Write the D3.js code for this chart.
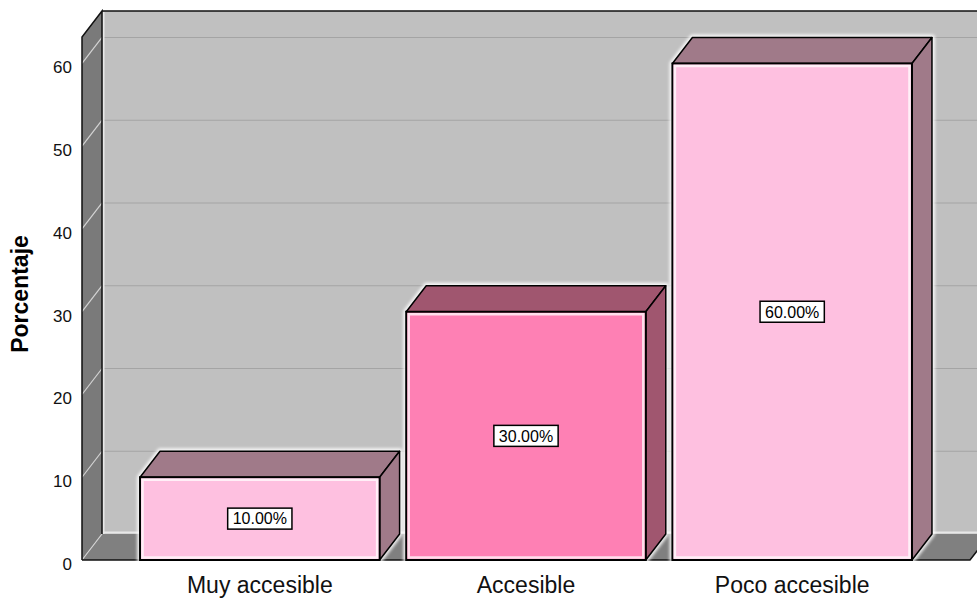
<!DOCTYPE html>
<html>
<head>
<meta charset="utf-8">
<script src="https://cdn.jsdelivr.net/npm/d3@7"></script>
<style>
  html, body { margin: 0; padding: 0; background: #fff; overflow: hidden; }
  svg { display: block; }
</style>
</head>
<body>
<svg id="chart" width="977" height="598"></svg>
<script>
const categories = ["Muy accesible", "Accesible", "Poco accesible"];
const values = [10, 30, 60];
const valueLabels = ["10.00%", "30.00%", "60.00%"];
const yTicks = [0, 10, 20, 30, 40, 50, 60];
const yTitle = "Porcentaje";

const frontColors = ["#fec0e0", "#fe80b4", "#fec0e0"];
const sideColors  = ["#a07a89", "#a0566f", "#a07a89"];

const W = 977, H = 598;
const DX = 20, DY = -26;
const svg = d3.select("#chart");

const defs = svg.append("defs");
defs.append("filter").attr("id", "glow").attr("x", "-10%").attr("y", "-10%").attr("width", "120%").attr("height", "120%")
  .append("feGaussianBlur").attr("stdDeviation", 1.5);

const x = d3.scaleBand().domain(categories).range([82, 970]).paddingInner(0.1).paddingOuter(0.218);
const y = d3.scaleLinear().domain([0, 63.2]).range([560, 37]);

// back wall
const wallTop = y(63.2) + DY;
svg.append("rect").attr("x", 82 + DX).attr("y", wallTop).attr("width", W).attr("height", y(0) + DY - wallTop)
  .attr("fill", "#c0c0c0");
// left wall
svg.append("polygon")
  .attr("points", [[82, y(63.2)], [82 + DX, wallTop], [82 + DX, y(0) + DY], [82, y(0)]].map(p => p.join(",")).join(" "))
  .attr("fill", "#7a7a7a");
// floor
svg.append("polygon")
  .attr("points", [[82, y(0)], [82 + DX, y(0) + DY], [970 + DX, y(0) + DY], [970, y(0)]].map(p => p.join(",")).join(" "))
  .attr("fill", "#808080");

// gridlines
const grid = yTicks.filter(v => v > 0);
svg.selectAll(".gb").data(grid).join("line")
  .attr("x1", 82 + DX).attr("x2", W).attr("y1", d => y(d) + DY).attr("y2", d => y(d) + DY)
  .attr("stroke", "#a4a4a4").attr("stroke-width", 1.2);
svg.selectAll(".gl").data(yTicks).join("line")
  .attr("x1", 82).attr("x2", 82 + DX).attr("y1", d => y(d)).attr("y2", d => y(d) + DY)
  .attr("stroke", "#d4d4d4").attr("stroke-width", 1.2);

// white inner highlight on back wall edges
svg.append("line").attr("x1", 82 + DX + 1.5).attr("x2", 82 + DX + 1.5).attr("y1", wallTop + 1).attr("y2", y(0) + DY)
  .attr("stroke", "#e8e8e8").attr("stroke-width", 2);
svg.append("line").attr("x1", 82 + DX).attr("x2", W).attr("y1", y(0) + DY - 1.5).attr("y2", y(0) + DY - 1.5)
  .attr("stroke", "#e8e8e8").attr("stroke-width", 2);

// outlines
svg.append("line").attr("x1", 82 + DX).attr("x2", W).attr("y1", wallTop).attr("y2", wallTop)
  .attr("stroke", "#111").attr("stroke-width", 1.5);
svg.append("polyline")
  .attr("points", [[82, y(0)], [82, y(63.2)], [82 + DX, wallTop], [82 + DX, y(0) + DY]].map(p => p.join(",")).join(" "))
  .attr("fill", "none").attr("stroke", "#111").attr("stroke-width", 1.5);
svg.append("polyline")
  .attr("points", [[82, y(0)], [970, y(0)], [970 + DX, y(0) + DY]].map(p => p.join(",")).join(" "))
  .attr("fill", "none").attr("stroke", "#111").attr("stroke-width", 1.5);

// bars
const bars = svg.selectAll(".bar").data(categories.map((c, i) => ({c, v: values[i], i}))).join("g");
bars.each(function(d) {
  const g = d3.select(this);
  const x0 = x(d.c), x1 = x(d.c) + x.bandwidth(), yt = y(d.v), yb = y(0);
  const outline = [[x0, yb], [x0, yt], [x0 + DX, yt + DY], [x1 + DX, yt + DY], [x1 + DX, yb + DY], [x1, yb]];
  // white halo
  g.append("polygon").attr("points", outline.map(p => p.join(",")).join(" "))
    .attr("fill", "none").attr("stroke", "#ffffff").attr("stroke-opacity", 0.85).attr("stroke-width", 6)
    .attr("stroke-linejoin", "round").attr("filter", "url(#glow)");
  g.append("polygon")
    .attr("points", [[x0, yt], [x0 + DX, yt + DY], [x1 + DX, yt + DY], [x1, yt]].map(p => p.join(",")).join(" "))
    .attr("fill", sideColors[d.i]).attr("stroke", "#000").attr("stroke-width", 1.5).attr("stroke-linejoin", "round");
  g.append("polygon")
    .attr("points", [[x1, yt], [x1 + DX, yt + DY], [x1 + DX, yb + DY], [x1, yb]].map(p => p.join(",")).join(" "))
    .attr("fill", sideColors[d.i]).attr("stroke", "#000").attr("stroke-width", 1.5).attr("stroke-linejoin", "round");
  g.append("rect").attr("x", x0).attr("y", yt).attr("width", x1 - x0).attr("height", yb - yt)
    .attr("fill", frontColors[d.i]).attr("stroke", "#000").attr("stroke-width", 2);
  g.append("rect").attr("x", x0 + 2.5).attr("y", yt + 2.5).attr("width", x1 - x0 - 5).attr("height", yb - yt - 5)
    .attr("fill", "none").attr("stroke", "#fff").attr("stroke-opacity", 0.75).attr("stroke-width", 2.5);
  // label
  const cx = (x0 + x1) / 2, cy = (yt + yb) / 2;
  const t = g.append("text").attr("x", cx).attr("y", cy).attr("dy", "0.36em").attr("text-anchor", "middle")
    .attr("font-family", "Liberation Sans, Arial, sans-serif").attr("font-size", 16).attr("fill", "#000")
    .text(valueLabels[d.i]);
  const bb = t.node().getBBox();
  g.insert("rect", "text").attr("x", cx - bb.width / 2 - 5).attr("y", cy - 10.5).attr("width", bb.width + 10).attr("height", 21)
    .attr("fill", "#fff").attr("stroke", "#000").attr("stroke-width", 1.5);
});

// y axis
const yAxis = d3.axisLeft(y).tickValues(yTicks).tickSize(0).tickPadding(0).tickFormat(d3.format("d"));
const ya = svg.append("g").attr("transform", "translate(72,4)").call(yAxis);
ya.select(".domain").remove();
ya.selectAll("text").attr("font-family", "Liberation Sans, Arial, sans-serif").attr("font-size", 17).attr("fill", "#111");

// x axis labels
const xAxis = d3.axisBottom(x).tickSize(0).tickPadding(0);
const xa = svg.append("g").attr("transform", "translate(0,577)").call(xAxis);
xa.select(".domain").remove();
xa.selectAll("text").attr("font-family", "Liberation Sans, Arial, sans-serif").attr("font-size", 23).attr("fill", "#111").attr("dy", "0.71em");

// y title
svg.append("text").attr("transform", "translate(28,294) rotate(-90)").attr("text-anchor", "middle")
  .attr("font-family", "Liberation Sans, Arial, sans-serif").attr("font-weight", "bold").attr("font-size", 23)
  .attr("fill", "#000").text(yTitle);
</script>
</body>
</html>
